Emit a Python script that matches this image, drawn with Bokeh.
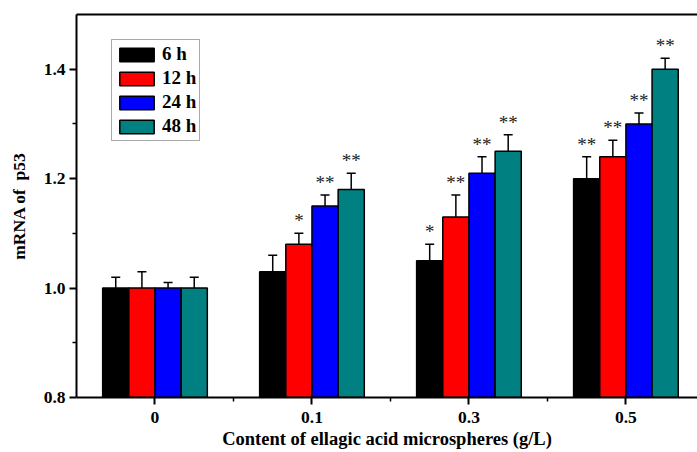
from bokeh.plotting import figure
from bokeh.models import (ColumnDataSource, Whisker, TeeHead, FixedTicker, Range1d,
                          LinearAxis, Legend, LegendItem)
from bokeh.embed import file_html
from bokeh.resources import INLINE
from bokeh.core.properties import value

categories = ["0", "0.1", "0.3", "0.5"]
series = ["6 h", "12 h", "24 h", "48 h"]
colors = ["#000000", "#ff0000", "#0000ff", "#008080"]

mean_6h = [1.00, 1.03, 1.05, 1.20]
mean_12h = [1.00, 1.08, 1.13, 1.24]
mean_24h = [1.00, 1.15, 1.21, 1.30]
mean_48h = [1.00, 1.18, 1.25, 1.40]

err_6h = [0.02, 0.03, 0.03, 0.04]
err_12h = [0.03, 0.02, 0.04, 0.03]
err_24h = [0.01, 0.02, 0.03, 0.02]
err_48h = [0.02, 0.03, 0.03, 0.02]

sig_6h = ["", "", "*", "**"]
sig_12h = ["", "*", "**", "**"]
sig_24h = ["", "**", "**", "**"]
sig_48h = ["", "**", "**", "**"]

y_ticks = [0.8, 1.0, 1.2, 1.4]
x_title = "Content of ellagic acid microspheres (g/L)"
y_title = "mRNA of\u00a0\u00a0p53"

means = [mean_6h, mean_12h, mean_24h, mean_48h]
errs = [err_6h, err_12h, err_24h, err_48h]
sigs = [sig_6h, sig_12h, sig_24h, sig_48h]

FONT = "Liberation Serif"

p = figure(width=697, height=452, output_backend="svg", toolbar_location=None,
           x_range=Range1d(-0.5, 3.456), y_range=Range1d(0.8, 1.5),
           min_border_left=76, min_border_right=0, min_border_top=14,
           min_border_bottom=55)
p.outline_line_color = None
p.xgrid.visible = False
p.ygrid.visible = False
p.background_fill_color = "white"
p.border_fill_color = "white"

bar_w = 0.1667
offsets = [-0.25, -0.0833, 0.0833, 0.25]
items = []
for i in range(4):
    xs = [j + offsets[i] for j in range(len(categories))]
    ups = [m + e for m, e in zip(means[i], errs[i])]
    los = [m - e for m, e in zip(means[i], errs[i])]
    src = ColumnDataSource(dict(x=xs, top=means[i], upper=ups, lower=los, sig=sigs[i]))
    r = p.vbar(x="x", top="top", bottom=0.8, width=bar_w, source=src,
               fill_color=colors[i], line_color="black", line_width=1.5)
    items.append(LegendItem(label=series[i], renderers=[r]))
    w = Whisker(source=src, base="x", upper="upper", lower="lower",
                line_color="black", line_width=1.5,
                upper_head=TeeHead(size=9, line_color="black", line_width=1.5),
                lower_head=TeeHead(size=9, line_color="black", line_width=1.5))
    p.add_layout(w)
    p.text(x="x", y="upper", text="sig", source=src, text_align="center",
           text_baseline="bottom", y_offset=-2, text_font=value(FONT),
           text_font_size="19px", text_color="#222222")

legend = Legend(items=items, location=(35, 256), orientation="vertical")
legend.label_text_font = FONT
legend.label_text_font_style = "bold"
legend.label_text_font_size = "19px"
legend.label_text_color = "black"
legend.label_standoff = 4
legend.glyph_width = 43
legend.glyph_height = 17
legend.label_height = 17
legend.spacing = 2
legend.padding = 3
legend.margin = 0
legend.border_line_color = "#555555"
legend.border_line_width = 1
legend.background_fill_alpha = 1
p.add_layout(legend, "center")

# axes styling
xa = p.xaxis[0]
xa.ticker = FixedTicker(ticks=[0, 1, 2, 3], minor_ticks=[0.5, 1.5, 2.5])
xa.major_label_overrides = {0: "0", 1: "0.1", 2: "0.3", 3: "0.5"}
xa.axis_label = x_title

ya = p.yaxis[0]
ya.ticker = FixedTicker(ticks=y_ticks, minor_ticks=[0.9, 1.1, 1.3])
ya.major_label_overrides = {0.8: "0.8", 1.0: "1.0", 1.2: "1.2", 1.4: "1.4"}
ya.axis_label = y_title

for ax in (xa, ya):
    ax.axis_line_width = 2
    ax.axis_line_color = "black"
    ax.major_tick_line_width = 2
    ax.minor_tick_line_width = 1.5
    ax.major_tick_out = 7
    ax.major_tick_in = 0
    ax.minor_tick_out = 4
    ax.minor_tick_in = 0
    ax.major_label_text_font = FONT
    ax.major_label_text_font_style = "bold"
    ax.major_label_text_font_size = "17.5px"
    ax.major_label_text_color = "black"
    ax.axis_label_text_font = FONT
    ax.axis_label_text_font_style = "bold"
    ax.axis_label_text_font_size = "18.5px"
    ax.axis_label_text_color = "black"

ya.axis_label_text_font_size = "17.5px"
xa.major_label_standoff = 7
xa.axis_label_standoff = 3
ya.major_label_standoff = 4
ya.axis_label_standoff = 12

top_axis = LinearAxis(axis_line_width=2, axis_line_color="black",
                      major_tick_line_color=None, minor_tick_line_color=None,
                      major_label_text_font_size="0px")
top_axis.ticker = FixedTicker(ticks=[])
p.add_layout(top_axis, "above")

open("out.html", "w").write(file_html(p, INLINE))
